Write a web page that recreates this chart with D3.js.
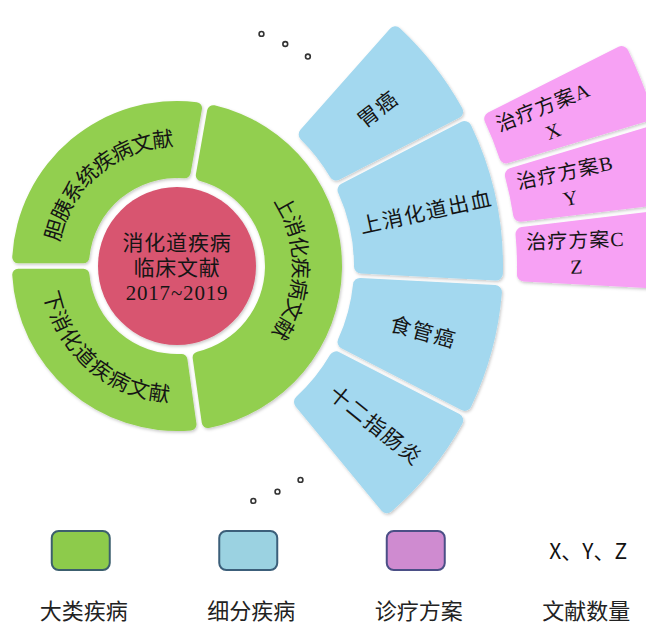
<!DOCTYPE html>
<html>
<head>
<meta charset="utf-8">
<script src="https://cdn.jsdelivr.net/npm/d3@7/dist/d3.min.js"></script>
<style>
  html, body { margin: 0; padding: 0; background: #fff; }
  svg { display: block; }
</style>
</head>
<body>
<svg id="chart" width="646" height="626"></svg>
<script>
// ---------- data ----------
const centerLines = ["消化道疾病", "临床文献", "2017~2019"];
const majorCategories = ["胆胰系统疾病文献", "上消化疾病文献", "下消化道疾病文献"];
const majorWeights = [100, 162, 98];
const subCategories = ["胃癌", "上消化道出血", "食管癌", "十二指肠炎"];
const subWeights = [21, 30, 24, 23];
const subParent = "上消化疾病文献";
const plans = ["治疗方案A", "治疗方案B", "治疗方案C"];
const planCounts = ["X", "Y", "Z"];
const planWeights = [1, 1, 1];
const planParent = "上消化道出血";
const moreDotsAngles = [20, 26, 32, 150, 156, 162]; // "。。。" indicators (degrees)
const legendLabels = ["大类疾病", "细分疾病", "诊疗方案", "文献数量"];
const legendCountText = "X、Y、Z";

// ---------- layout / style ----------
const W = 646, H = 626;
const cx = 177, cy = 266;
const deg = Math.PI / 180;
const R = { center: 79, g0: 88, g1: 165, b0: 177, b1: 326, p0: 340, p1: 500 };
const colors = { center: "#d8546f", major: "#92cf4f", sub: "#a3d8ef", plan: "#f7a1f4" };
const legendFill = ["#8dcb4b", "#9bd2e1", "#cf8bd0"];
const legendStroke = ["#3c5f6e", "#3c5f7a", "#4b4f86"];
const textColor = "#151515";
const cjkFont = "'Liberation Serif', 'Noto Sans CJK SC', serif";
const sansFont = "'Noto Sans CJK SC', 'Noto Sans', sans-serif";

const svg = d3.select("#chart");
const defs = svg.append("defs");
const f = defs.append("filter").attr("id", "sh").attr("x", "-10%").attr("y", "-10%").attr("width", "120%").attr("height", "120%");
f.append("feDropShadow").attr("dx", 1).attr("dy", 1.5).attr("stdDeviation", 1.6)
  .attr("flood-color", "#000").attr("flood-opacity", 0.22);

const g = svg.append("g").attr("transform", `translate(${cx},${cy})`);
const pt = (r, a) => [r * Math.sin(a), -r * Math.cos(a)];

// ---------- major ring ----------
const majorPie = d3.pie().sort(null).value(d => d)
  .startAngle(-90 * deg).endAngle(270 * deg);
const majorArcs = majorPie(majorWeights).map((d, i) => ({ ...d, name: majorCategories[i] }));
const majorArc = d3.arc().innerRadius(R.g0).outerRadius(R.g1)
  .padAngle(0.03).padRadius(180).cornerRadius(6);

g.append("g").selectAll("path").data(majorArcs).join("path")
  .attr("d", majorArc).attr("fill", colors.major).attr("filter", "url(#sh)");

// characters laid out along arcs
const textR = [127, 123, 129];
const arcFont = 21, arcPitch = 21.3;
const arcChars = [];
majorArcs.forEach((d, i) => {
  const mid = (d.startAngle + d.endAngle) / 2;
  const flip = Math.cos(mid) < -0.5;
  const r = textR[i];
  const chars = Array.from(d.name);
  const dA = arcPitch / r;
  chars.forEach((c, k) => {
    const off = (k - (chars.length - 1) / 2) * dA;
    const a = flip ? mid - off : mid + off;
    arcChars.push({ c, a, r, rot: a / deg - (flip ? 180 : 0) });
  });
});
g.append("g").selectAll("text").data(arcChars).join("text")
  .attr("transform", d => {
    const p = pt(d.r, d.a);
    return `translate(${p[0]},${p[1]}) rotate(${d.rot})`;
  })
  .attr("text-anchor", "middle").attr("dominant-baseline", "central")
  .attr("font-family", cjkFont).attr("font-size", arcFont).attr("fill", textColor)
  .text(d => d.c);

// ---------- center ----------
g.append("circle").attr("r", R.center).attr("fill", colors.center).attr("filter", "url(#sh)");
const lineH = 25;
const centerText = g.append("text")
  .attr("text-anchor", "middle")
  .attr("font-family", cjkFont).attr("font-size", 21).attr("fill", textColor)
  .attr("letter-spacing", 0.8);
centerText.selectAll("tspan").data(centerLines).join("tspan")
  .attr("x", 0).attr("y", (d, i) => (i - 1) * lineH + 9)
  .text(d => d);

// ---------- sub ring ----------
const parentMajor = majorArcs.find(d => d.name === subParent);
const parentMid = (parentMajor.startAngle + parentMajor.endAngle) / 2;
const subSpan = 99 * deg;
const subPie = d3.pie().sort(null).value(d => d)
  .startAngle(parentMid - subSpan / 2).endAngle(parentMid + subSpan / 2);
const subArcs = subPie(subWeights).map((d, i) => ({ ...d, name: subCategories[i] }));
const subArc = d3.arc().innerRadius(R.b0).outerRadius(R.b1)
  .padAngle(0.012).padRadius(370).cornerRadius(7);

g.append("g").selectAll("path").data(subArcs).join("path")
  .attr("d", subArc).attr("fill", colors.sub).attr("filter", "url(#sh)");

const subTextR = 255;
g.append("g").selectAll("text").data(subArcs).join("text")
  .attr("transform", d => {
    const m = (d.startAngle + d.endAngle) / 2;
    const p = pt(subTextR, m);
    return `translate(${p[0]},${p[1]}) rotate(${m / deg - 90})`;
  })
  .attr("text-anchor", "middle").attr("dominant-baseline", "central")
  .attr("font-family", cjkFont).attr("font-size", 21).attr("fill", textColor)
  .attr("letter-spacing", 1.5)
  .text(d => d.name);

// ---------- plan ring ----------
const parentSub = subArcs.find(d => d.name === planParent);
const planPie = d3.pie().sort(null).value(d => d)
  .startAngle(parentSub.startAngle + 0.01).endAngle(parentSub.endAngle);
const planArcs = planPie(planWeights).map((d, i) => ({ ...d, name: plans[i], count: planCounts[i] }));
const planArc = d3.arc().innerRadius(R.p0).outerRadius(R.p1)
  .padAngle(0.013).padRadius(420).cornerRadius(7);

g.append("g").selectAll("path").data(planArcs).join("path")
  .attr("d", planArc).attr("fill", colors.plan).attr("filter", "url(#sh)");

const planTextR = 399;
const planTexts = g.append("g").selectAll("g").data(planArcs).join("g")
  .attr("transform", d => {
    const m = (d.startAngle + d.endAngle) / 2;
    const p = pt(planTextR, m);
    return `translate(${p[0]},${p[1]}) rotate(${m / deg - 90})`;
  });
planTexts.append("text")
  .attr("y", -12).attr("text-anchor", "middle").attr("dominant-baseline", "central")
  .attr("font-family", cjkFont).attr("font-size", 20).attr("fill", textColor)
  .attr("letter-spacing", 1)
  .text(d => d.name);
planTexts.append("text")
  .attr("y", 14).attr("text-anchor", "middle").attr("dominant-baseline", "central")
  .attr("font-family", cjkFont).attr("font-size", 20).attr("fill", textColor)
  .text(d => d.count);

// ---------- "more" dots ----------
const dotR = 247;
g.append("g").selectAll("circle").data(moreDotsAngles).join("circle")
  .attr("cx", a => pt(dotR, a * deg)[0]).attr("cy", a => pt(dotR, a * deg)[1])
  .attr("r", 2.4).attr("fill", "#fff").attr("stroke", "#333").attr("stroke-width", 1.6);

// ---------- legend ----------
const lx = d3.scaleBand().domain(legendLabels).range([0, 670]);
const legend = svg.append("g");
const boxW = 58, boxH = 39, boxY = 531;
legend.selectAll("rect").data(legendLabels.slice(0, 3)).join("rect")
  .attr("x", d => lx(d) + lx.bandwidth() / 2 - boxW / 2 - 3)
  .attr("y", boxY).attr("width", boxW).attr("height", boxH)
  .attr("rx", 7).attr("ry", 7)
  .attr("fill", (d, i) => legendFill[i])
  .attr("stroke", (d, i) => legendStroke[i]).attr("stroke-width", 2);
legend.append("text")
  .attr("x", lx(legendLabels[3]) + lx.bandwidth() / 2 + 2).attr("y", boxY + boxH / 2 - 1)
  .attr("text-anchor", "middle").attr("dominant-baseline", "central")
  .attr("font-family", sansFont).attr("font-size", 21).attr("fill", "#111")
  .text(legendCountText);
legend.selectAll("text.lab").data(legendLabels).join("text").attr("class", "lab")
  .attr("x", d => lx(d) + lx.bandwidth() / 2)
  .attr("y", 609)
  .attr("text-anchor", "middle").attr("dominant-baseline", "central")
  .attr("font-family", sansFont).attr("font-size", 22).attr("fill", "#222")
  .text(d => d);
</script>
</body>
</html>
